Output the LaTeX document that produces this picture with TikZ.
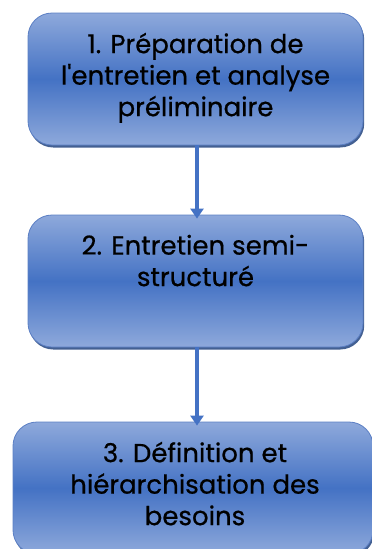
\documentclass[tikz,border=0pt]{standalone}
\usepackage{fontspec}
\setmainfont{Poppins}[FakeBold=0.6]
\usetikzlibrary{shadows,arrows.meta}
\definecolor{boxlight}{HTML}{8EA9DB}
\definecolor{boxdark}{HTML}{4472C4}
\definecolor{boxedge}{HTML}{5B7FC4}
\definecolor{shadowblue}{HTML}{2F4F86}
\definecolor{arrowblue}{HTML}{4472C4}
\tikzset{
  stepbox/.style={draw=boxedge, line width=0.8pt, rounded corners=24pt,
    top color=boxlight, bottom color=boxlight, middle color=boxdark,
    drop shadow={shadow xshift=1.2pt, shadow yshift=-2.5pt, fill=shadowblue, opacity=0.9}},
  steptext/.style={anchor=north, align=center, font=\fontsize{26}{31.5}\selectfont, text=black, inner sep=0pt},
  flow/.style={draw=arrowblue, line width=4.5pt, -{Triangle[width=13pt,length=10pt]}}
}
\begin{document}
\begin{tikzpicture}[x=1pt,y=-1pt]
\useasboundingbox (0,0) rectangle (372,549);
\node[stepbox, minimum width=335pt, minimum height=132pt] (b1) at (195.5,79) {};
\node[stepbox, minimum width=335pt, minimum height=132pt] (b2) at (195.5,281) {};
\node[stepbox, minimum width=360pt, minimum height=132pt] (b3) at (193,488) {};
\node[steptext] (t1) at ([yshift=-20pt]b1.north) {1. Préparation de\\l\textquotesingle entretien et analyse\\préliminaire};
\node[steptext] (t2) at ([yshift=-20pt]b2.north) {2. Entretien semi-\\structuré};
\node[steptext] (t3) at ([yshift=-20pt,xshift=2pt]b3.north) {3. Définition et\\hiérarchisation des\\besoins};
\draw[flow] (b1.south) ++(1.5,0) coordinate (s1) -- ([yshift=-4pt]s1 |- b2.north) coordinate (e1);
\draw[flow] (b2.south) ++(1.5,0) coordinate (s2) -- ([yshift=-4pt]s2 |- b3.north) coordinate (e2);
\end{tikzpicture}
\end{document}
